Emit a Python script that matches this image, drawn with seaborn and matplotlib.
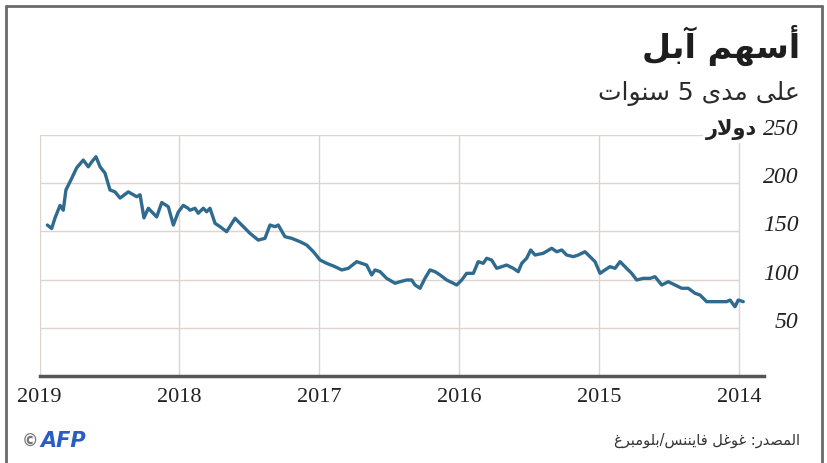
import re
import pandas as pd
import matplotlib
matplotlib.use("Agg")
import matplotlib.pyplot as plt
from matplotlib.lines import Line2D
import seaborn as sns

# Apple share price (decimal year, USD)
years = [
    2018.944, 2018.913, 2018.889, 2018.853, 2018.830, 2018.811, 2018.770, 2018.734,
    2018.687, 2018.651, 2018.627, 2018.596, 2018.567, 2018.532, 2018.496, 2018.460,
    2018.424, 2018.365, 2018.305, 2018.281, 2018.253, 2018.222, 2018.162, 2018.126,
    2018.079, 2018.043, 2018.008, 2017.972, 2017.938, 2017.924, 2017.888, 2017.865,
    2017.829, 2017.805, 2017.781, 2017.745, 2017.709, 2017.662, 2017.602, 2017.554,
    2017.495, 2017.436, 2017.388, 2017.352, 2017.316, 2017.293, 2017.245, 2017.197,
    2017.137, 2017.090, 2017.042, 2016.994, 2016.947, 2016.887, 2016.839, 2016.792,
    2016.732, 2016.661, 2016.625, 2016.601, 2016.565, 2016.518, 2016.458, 2016.422,
    2016.375, 2016.339, 2016.315, 2016.279, 2016.244, 2016.208, 2016.172, 2016.136,
    2016.089, 2016.041, 2016.017, 2015.981, 2015.946, 2015.898, 2015.863, 2015.827,
    2015.803, 2015.767, 2015.731, 2015.695, 2015.660, 2015.612, 2015.577, 2015.552,
    2015.517, 2015.488, 2015.457, 2015.398, 2015.338, 2015.302, 2015.266, 2015.231,
    2015.183, 2015.148, 2015.100, 2015.064, 2015.028, 2014.992, 2014.957, 2014.921,
    2014.885, 2014.849, 2014.802, 2014.766, 2014.730, 2014.683, 2014.635, 2014.599,
    2014.551, 2014.504, 2014.456, 2014.408, 2014.361, 2014.313, 2014.277, 2014.230,
    2014.182, 2014.134, 2014.087, 2014.063, 2014.027, 2014.004, 2013.968,
]
prices = [
    156.6, 153.0, 164.0, 177.0, 172.0, 193.0, 205.0, 216.0,
    224.0, 217.0, 222.0, 227.5, 217.0, 210.6, 193.0, 191.0,
    184.6, 191.0, 186.0, 188.0, 164.0, 174.0, 165.0, 180.0,
    175.6, 156.6, 170.0, 177.0, 174.0, 172.0, 174.0, 168.8,
    174.0, 170.4, 174.0, 158.4, 154.9, 149.7, 163.6, 156.6,
    148.0, 141.0, 142.8, 156.6, 154.9, 156.6, 144.5, 142.8,
    139.3, 135.9, 129.0, 120.3, 116.9, 113.4, 110.0, 111.7,
    118.6, 115.1, 104.8, 110.0, 108.2, 101.3, 96.2, 97.8,
    99.6, 99.6, 94.4, 91.0, 101.3, 110.0, 108.2, 104.8,
    99.6, 96.2, 94.4, 99.6, 106.5, 106.5, 118.6, 116.9,
    122.1, 120.3, 111.7, 113.4, 115.1, 111.7, 108.2, 116.9,
    122.1, 130.7, 125.5, 127.3, 132.5, 128.9, 130.7, 125.5,
    123.8, 125.5, 128.9, 123.8, 118.6, 106.5, 110.0, 113.4,
    111.7, 118.6, 111.7, 106.5, 99.6, 101.3, 101.3, 103.0,
    94.4, 97.8, 94.4, 91.0, 91.0, 85.8, 84.0, 77.1,
    77.1, 77.1, 77.1, 78.8, 71.9, 78.8, 77.1,
]

year_ticks = [2019, 2018, 2017, 2016, 2015, 2014]
price_ticks = [50, 100, 150, 200, 250]

title = "أسهم آبل"
subtitle = "على مدى 5 سنوات"
unit = "دولار"
source = "المصدر: غوغل فايننس/بلومبرغ"

# --- minimal Arabic shaping (matplotlib has no bidi / joining support) ---
FORMS = {
    "ا": (0xFE8D, 2), "أ": (0xFE83, 2), "آ": (0xFE81, 2), "ب": (0xFE8F, 4),
    "ت": (0xFE95, 4), "د": (0xFEA9, 2), "ر": (0xFEAD, 2), "س": (0xFEB1, 4),
    "ص": (0xFEB9, 4), "ع": (0xFEC9, 4), "غ": (0xFECD, 4), "ف": (0xFED1, 4),
    "ل": (0xFEDD, 4), "م": (0xFEE1, 4), "ن": (0xFEE5, 4), "ه": (0xFEE9, 4),
    "و": (0xFEED, 2), "ى": (0xFEEF, 2), "ي": (0xFEF1, 4),
}
LAM_ALEF = {"ا": 0xFEFB, "أ": 0xFEF7, "آ": 0xFEF5}


def shape(s):
    out = []
    i = 0
    while i < len(s):
        c = s[i]
        if c not in FORMS:
            out.append(c)
            i += 1
            continue
        prev = s[i - 1] if i > 0 else ""
        joins_prev = prev in FORMS and FORMS[prev][1] == 4
        if c == "ل" and i + 1 < len(s) and s[i + 1] in LAM_ALEF:
            out.append(chr(LAM_ALEF[s[i + 1]] + (1 if joins_prev else 0)))
            i += 2
            continue
        nxt = s[i + 1] if i + 1 < len(s) else ""
        base, n = FORMS[c]
        joins_next = n == 4 and nxt in FORMS
        if joins_prev and joins_next:
            off = 3
        elif joins_prev:
            off = 1
        elif joins_next:
            off = 2
        else:
            off = 0
        out.append(chr(base + off))
        i += 1
    return "".join(out)


def rtl(s):
    tokens = re.findall(r"[0-9]+|.", shape(s))
    return "".join(reversed(tokens))


# --- plot ---
sns.set_style("white")
plt.rcParams["font.family"] = ["DejaVu Sans"]

W, H = 827, 463
fig = plt.figure(figsize=(W / 100, H / 100), dpi=100)
ax = fig.add_axes([39.5 / W, 87 / H, 724.5 / W, 241 / H])

df = pd.DataFrame({"year": years, "price": prices})
sns.lineplot(data=df, x="year", y="price", ax=ax, color="#2f6a8f", linewidth=2.4, zorder=3)

ax.set_xlim(2019, 2019 - 724.5 / 139.86)
ax.set_ylim(0, 250)
ax.set_xlabel("")
ax.set_ylabel("")

grid_col = "#ddd4ce"
ax.hlines(price_ticks, 2019, 2014, color=grid_col, lw=1, zorder=0)
ax.set_xticks(year_ticks)
ax.grid(axis="x", color=grid_col, lw=1, zorder=0)
ax.grid(axis="y", visible=False)

ax.set_xticklabels([str(y) for y in year_ticks], family="Liberation Serif",
                   fontsize=16, color="#222222")
ax.tick_params(axis="x", direction="inout", length=8, width=1.2, color="#444444", pad=5)

ax.yaxis.tick_right()
ax.set_yticks(price_ticks)
ax.set_yticklabels([str(p) for p in price_ticks], family="Liberation Serif",
                   style="italic", fontsize=17, color="#222222", ha="right", va="baseline")
ax.tick_params(axis="y", length=0, pad=25)

for side in ["top", "left", "right"]:
    ax.spines[side].set_visible(False)
ax.spines["bottom"].set_color("#555555")
ax.spines["bottom"].set_linewidth(2.5)

# unit next to the top tick label
ax.text(0.99, 250, rtl(unit), transform=ax.get_yaxis_transform(), ha="right", va="baseline",
        fontsize=15, fontweight="bold", color="#222222",
        bbox=dict(facecolor="white", edgecolor="none", pad=2))

# titles
fig.text(800 / W, 1 - 45 / H, rtl(title), ha="right", va="center",
         fontsize=24, fontweight="bold", color="#1e1e1e")
fig.text(800 / W, 1 - 93 / H, rtl(subtitle), ha="right", va="center",
         fontsize=18, color="#2a2a2a")

# footer
fig.text(800 / W, 1 - 440 / H, rtl(source), ha="right", va="center",
         fontsize=10.5, color="#333333")
fig.text(22 / W, 1 - 442 / H, "©", ha="left", va="center", fontsize=12,
         fontweight="bold", color="#777777")
fig.text(40 / W, 1 - 441 / H, "AFP", ha="left", va="center", fontsize=15,
         fontweight="bold", style="italic", color="#2a5cc4")

# frame
frame = dict(transform=fig.transFigure, color="#6a6a6a", lw=2)
fig.add_artist(Line2D([6 / W, 6 / W], [0, 1 - 6 / H], **frame))
fig.add_artist(Line2D([6 / W, 822 / W], [1 - 6 / H, 1 - 6 / H], **frame))
fig.add_artist(Line2D([822 / W, 822 / W], [0, 1 - 6 / H], **frame))

fig.savefig("out.png", dpi=100)
